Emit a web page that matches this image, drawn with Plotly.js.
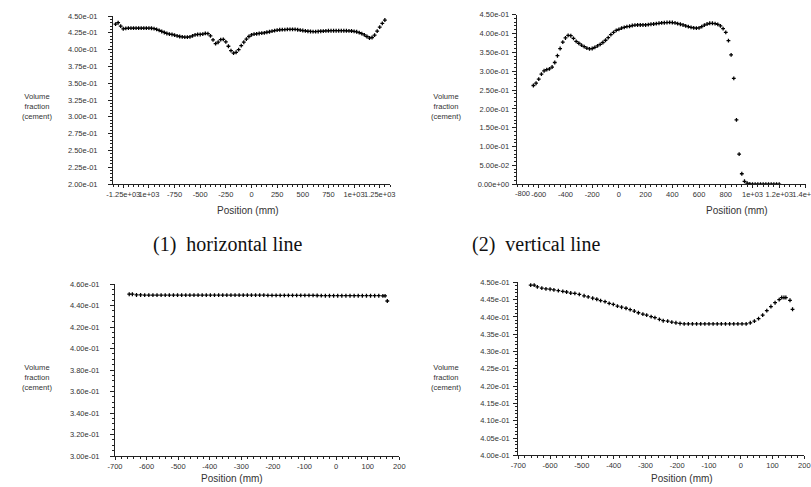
<!DOCTYPE html>
<html><head><meta charset="utf-8">
<script src="https://cdn.plot.ly/plotly-3.0.1.min.js"></script>
<style>html,body{margin:0;padding:0;background:#fff;}#c{width:811px;height:487px;}</style>
</head><body><div id="c"></div>
<script>
// Panel 1: horizontal line (top-left)
var x1 = [-1325,-1300,-1275,-1250,-1225,-1200,-1175,-1150,-1125,-1100,-1075,-1050,-1025,-1000,-975,-950,-925,-900,-875,-850,-825,-800,-775,-750,-725,-700,-675,-650,-625,-600,-575,-550,-525,-500,-475,-450,-425,-400,-375,-350,-325,-300,-275,-250,-225,-200,-175,-150,-125,-100,-75,-50,-25,0,25,50,75,100,125,150,175,200,225,250,275,300,325,350,375,400,425,450,475,500,525,550,575,600,625,650,675,700,725,750,775,800,825,850,875,900,925,950,975,1000,1025,1050,1075,1100,1125,1150,1175,1200,1225,1250,1275,1300];
var y1 = [0.438,0.440,0.435,0.431,0.4315,0.432,0.432,0.432,0.432,0.432,0.432,0.432,0.432,0.432,0.4318,0.4312,0.430,0.4285,0.427,0.4255,0.424,0.423,0.4225,0.4215,0.4205,0.4195,0.419,0.4185,0.4185,0.419,0.4205,0.422,0.4225,0.4225,0.423,0.4242,0.4238,0.4205,0.4145,0.4088,0.411,0.4148,0.4152,0.4115,0.405,0.3985,0.3948,0.396,0.400,0.406,0.411,0.4155,0.4195,0.422,0.423,0.4235,0.424,0.4245,0.425,0.4258,0.4265,0.4275,0.4283,0.429,0.4295,0.4297,0.4297,0.4300,0.4302,0.4302,0.4300,0.4296,0.4290,0.4284,0.4278,0.4273,0.4270,0.4268,0.4268,0.4270,0.4273,0.4276,0.4279,0.4280,0.4281,0.4281,0.4281,0.4281,0.4281,0.4281,0.4280,0.4279,0.4277,0.4272,0.4265,0.4252,0.4238,0.4218,0.4195,0.4172,0.4180,0.4215,0.4275,0.4335,0.4390,0.4440];

// Panel 2: vertical line (top-right)
var x2 = [-640,-620,-600,-580,-560,-540,-520,-500,-480,-460,-440,-420,-400,-380,-360,-340,-320,-300,-280,-260,-240,-220,-200,-180,-160,-140,-120,-100,-80,-60,-40,-20,0,20,40,60,80,100,120,140,160,180,200,220,240,260,280,300,320,340,360,380,400,420,440,460,480,500,520,540,560,580,600,620,640,660,680,700,720,740,760,780,800,820,840,860,880,900,920,940,960,980,1000,1020,1040,1060,1080,1100,1120,1140,1160,1180,1200];
var y2 = [0.262,0.268,0.279,0.292,0.301,0.304,0.306,0.311,0.323,0.341,0.360,0.377,0.388,0.395,0.394,0.387,0.379,0.374,0.369,0.365,0.361,0.359,0.360,0.363,0.367,0.371,0.376,0.382,0.389,0.397,0.403,0.408,0.411,0.414,0.416,0.418,0.419,0.421,0.422,0.4225,0.4225,0.4225,0.4225,0.4235,0.4245,0.425,0.426,0.427,0.428,0.4285,0.429,0.4295,0.429,0.428,0.426,0.4245,0.4225,0.420,0.418,0.416,0.415,0.414,0.415,0.418,0.422,0.425,0.427,0.427,0.426,0.424,0.420,0.413,0.403,0.381,0.343,0.281,0.171,0.080,0.028,0.008,0.003,0.001,0.0005,0.0004,0.0004,0.0004,0.0004,0.0004,0.0004,0.0004,0.0004,0.0004,0.0004];

// Panel 3: bottom-left
var x3 = [-655,-645,-632,-619,-606,-593,-580,-567,-554,-541,-528,-515,-502,-489,-476,-463,-450,-437,-424,-411,-398,-385,-372,-359,-346,-333,-320,-307,-294,-281,-268,-255,-242,-229,-216,-203,-190,-177,-164,-151,-138,-125,-112,-99,-86,-73,-60,-47,-34,-21,-8,5,18,31,44,57,70,83,96,109,122,135,148,155,162];
var y3 = [0.4505,0.4505,0.4498,0.4498,0.4497,0.4497,0.4497,0.4497,0.4497,0.4497,0.4497,0.4497,0.4497,0.4497,0.4497,0.4497,0.4497,0.4497,0.4497,0.4497,0.4497,0.4497,0.4497,0.4497,0.4497,0.4497,0.4497,0.4497,0.4497,0.4497,0.4497,0.4497,0.4497,0.4496,0.4494,0.4494,0.4494,0.4494,0.4494,0.4494,0.4494,0.4494,0.4494,0.4494,0.4494,0.4494,0.4493,0.4492,0.4491,0.4491,0.4491,0.4491,0.4491,0.4491,0.4491,0.4491,0.4491,0.4491,0.4491,0.4491,0.4491,0.4491,0.4490,0.4489,0.4442];

// Panel 4: bottom-right
var x4 = [-661,-650,-640,-626,-613,-600,-588,-574,-560,-548,-535,-522,-508,-493,-480,-466,-453,-441,-427,-414,-401,-388,-375,-361,-348,-335,-322,-308,-296,-282,-270,-256,-244,-230,-217,-204,-191,-178,-165,-152,-139,-126,-113,-100,-87,-74,-61,-48,-35,-22,-9,4,17,30,43,56,69,82,95,108,121,129,136,142,155,163];
var y4 = [0.4492,0.4492,0.4487,0.4483,0.4481,0.4480,0.4478,0.4476,0.4474,0.4472,0.4469,0.4468,0.4465,0.4461,0.4458,0.4454,0.4451,0.4447,0.4444,0.4439,0.4436,0.4431,0.4428,0.4425,0.4421,0.4417,0.4412,0.4408,0.4405,0.4401,0.4398,0.4393,0.4389,0.4388,0.4385,0.4383,0.4381,0.4380,0.4380,0.4380,0.4380,0.4380,0.4380,0.4380,0.4380,0.4380,0.4380,0.4380,0.4380,0.4380,0.4380,0.4380,0.4380,0.4383,0.4388,0.4395,0.4405,0.4418,0.4430,0.4441,0.4450,0.4456,0.4456,0.4456,0.4448,0.4422];

// Tick labels
var yt1v = [0.2,0.225,0.25,0.275,0.3,0.325,0.35,0.375,0.4,0.425,0.45];
var yt1t = ["2.00e-01","2.25e-01","2.50e-01","2.75e-01","3.00e-01","3.25e-01","3.50e-01","3.75e-01","4.00e-01","4.25e-01","4.50e-01"];
var xt1v = [-1250,-1000,-750,-500,-250,0,250,500,750,1000,1250];
var xt1t = ["-1.25e+03","1e+03","-750","-500","-250","0","250","500","750","1e+03","1.25e+03"];
var yt2v = [0,0.05,0.1,0.15,0.2,0.25,0.3,0.35,0.4,0.45];
var yt2t = ["0.00e+00","5.00e-02","1.00e-01","1.50e-01","2.00e-01","2.50e-01","3.00e-01","3.50e-01","4.00e-01","4.50e-01"];
var xt2v = [-600,-400,-200,0,200,400,600,800,1000,1200,1400];
var xt2t = ["-600","-400","-200","0","200","400","600","800","1e+03","1.2e+03","1.4e+03"];
var xt2first = "-800";
var yt3v = [0.30,0.32,0.34,0.36,0.38,0.40,0.42,0.44,0.46];
var yt3t = ["3.00e-01","3.20e-01","3.40e-01","3.60e-01","3.80e-01","4.00e-01","4.20e-01","4.40e-01","4.60e-01"];
var yt4v = [0.400,0.405,0.410,0.415,0.420,0.425,0.430,0.435,0.440,0.445,0.450];
var yt4t = ["4.00e-01","4.05e-01","4.10e-01","4.15e-01","4.20e-01","4.25e-01","4.30e-01","4.35e-01","4.40e-01","4.45e-01","4.50e-01"];
var xt34v = [-700,-600,-500,-400,-300,-200,-100,0,100,200];
var xt34t = ["-700","-600","-500","-400","-300","-200","-100","0","100","200"];

var W = 811, H = 487;
function dx(a,b){return [a/W, b/W];}
function dy(top,bot){return [1-bot/H, 1-top/H];}
var FONT = "Liberation Sans, Arial, sans-serif";
var TXT = "#333";

function trace(x,y,n){
  return {x:x, y:y, xaxis:'x'+(n===1?'':n), yaxis:'y'+(n===1?'':n), type:'scatter', mode:'markers',
    marker:{symbol:'cross', size:3.2, color:'#000', line:{width:0}}, hoverinfo:'skip', showlegend:false};
}
function xax(domain, range, tv, tt, anchor, minorDt){
  return {domain:domain, range:range, anchor:anchor, tickmode:'array', tickvals:tv, ticktext:tt,
    showgrid:false, zeroline:false, showline:true, linecolor:'#222', linewidth:1,
    ticks:'outside', ticklen:3, tickcolor:'#222', tickangle:0, ticklabeloverflow:'allow',
    tickfont:{family:FONT, size:7.5, color:TXT},
    minor:{ticks:'outside', ticklen:2, dtick:minorDt, tickcolor:'#222', showgrid:false}};
}
function yax(domain, range, tv, tt, anchor, minorDt, standoff){
  return {domain:domain, range:range, anchor:anchor, tickmode:'array', tickvals:tv, ticktext:tt,
    showgrid:false, zeroline:false, showline:true, linecolor:'#222', linewidth:1,
    ticks:'outside', ticklen:4, tickcolor:'#222', ticklabelstandoff:standoff, ticklabeloverflow:'allow',
    tickfont:{family:FONT, size:7.5, color:TXT},
    minor:{ticks:'outside', ticklen:2, dtick:minorDt, tickcolor:'#222', showgrid:false}};
}

var data = [trace(x1,y1,1), trace(x2,y2,2), trace(x3,y3,3), trace(x4,y4,4)];

var anns = [];
function ann(text, px, py, size, fam, color){
  anns.push({text:text, xref:'paper', yref:'paper', x:px/W, y:1-py/H, xanchor:'center', yanchor:'middle',
    showarrow:false, font:{family:fam||FONT, size:size, color:color||TXT}});
}
function ytitle(cx, cy){
  ann("Volume<br>fraction<br>(cement)", cx, cy, 7.6);
}
ytitle(37, 107);
ytitle(446, 107);
ytitle(37, 377);
ytitle(446, 377);
ann("Position (mm)", 248, 210, 10);
ann("Position (mm)", 737, 210, 10);
ann("Position (mm)", 232, 478, 10);
ann("Position (mm)", 682, 478, 10);
ann(xt2first, 522, 193.5, 7.5);
ann("(1)  horizontal line", 228, 245, 20, "Liberation Serif, Times New Roman, serif", "#111");
ann("(2)  vertical line", 536, 245, 20, "Liberation Serif, Times New Roman, serif", "#111");

var layout = {
  width:W, height:H, margin:{l:0,r:0,t:0,b:0}, paper_bgcolor:'#fff', plot_bgcolor:'#fff',
  showlegend:false,
  xaxis:  xax(dx(113,390), [-1350,1350], xt1v, xt1t, 'y', 50),
  yaxis:  yax(dy(16,184), [0.2,0.45], yt1v, yt1t, 'x', 0.005, 9),
  xaxis2: xax(dx(516.7,806), [-765,1400.5], xt2v, xt2t, 'y2', 40),
  yaxis2: yax(dy(14.6,184.3), [0,0.45], yt2v, yt2t, 'x2', 0.01, 1),
  xaxis3: xax(dx(115,399.3), [-700,200], xt34v, xt34t, 'y3', 20),
  yaxis3: yax(dy(284,456), [0.30,0.46], yt3v, yt3t, 'x3', 0.005, 9),
  xaxis4: xax(dx(518.3,804.3), [-700,200], xt34v, xt34t, 'y4', 20),
  yaxis4: yax(dy(282.3,455.3), [0.40,0.45], yt4v, yt4t, 'x4', 0.001, 2),
  annotations: anns
};
Plotly.newPlot('c', data, layout, {staticPlot:true, displayModeBar:false});
</script></body></html>
